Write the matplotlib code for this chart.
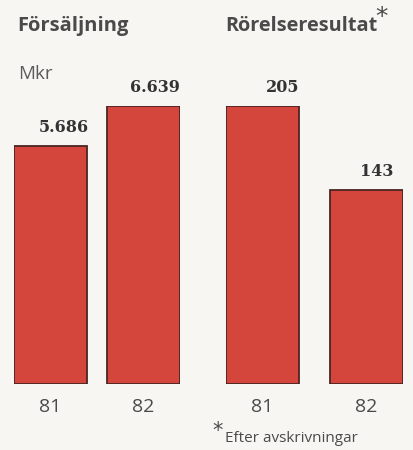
import matplotlib.pyplot as plt

years = ["81", "82"]
sales = [5686, 6639]
sales_labels = ["5.686", "6.639"]
profit = [205, 143]
profit_labels = ["205", "143"]

bg = "#f8f6f3"
bar_red = "#d4463c"
edge = "#4a2523"
text_grey = "#4a4a4a"

W, H = 414, 450
fig = plt.figure(figsize=(W / 100, H / 100), dpi=100, facecolor=bg)


def px_axes(x0, x1, ytop, ybot):
    return fig.add_axes([x0 / W, 1 - ybot / H, (x1 - x0) / W, (ybot - ytop) / H])


def draw(ax, vals, labels, w, label_dx):
    ax.set_facecolor("none")
    xs = range(len(vals))
    bars = ax.bar(xs, vals, width=w, color=bar_red, edgecolor=edge, linewidth=1.3)
    ax.set_xlim(-w / 2, len(vals) - 1 + w / 2)
    ax.set_ylim(0, max(vals))
    for b, lab, dx in zip(bars, labels, label_dx):
        ax.annotate(lab, (b.get_x() + b.get_width(), b.get_height()),
                    xytext=(dx, 7), textcoords="offset points",
                    ha="right", va="bottom", fontsize=11.5, fontweight="bold",
                    family="DejaVu Serif", color="#333333", annotation_clip=False)
    ax.set_xticks(list(xs))
    ax.set_xticklabels(years, fontsize=14, color=text_grey, family="Open Sans")
    ax.tick_params(axis="x", length=0, pad=10)
    ax.set_yticks([])
    for s in ax.spines.values():
        s.set_visible(False)


ax1 = px_axes(14, 180, 106, 384)
draw(ax1, sales, sales_labels, 0.785, [1, 0])

ax2 = px_axes(226, 403, 106, 384)
draw(ax2, profit, profit_labels, 0.70, [0, -7])

fig.text(17 / W, 1 - 26 / H, "Försäljning", fontsize=14.5, fontweight="bold",
         color=text_grey, va="center", ha="left", family="Open Sans")
fig.text(225 / W, 1 - 26 / H, "Rörelseresultat", fontsize=14.3, fontweight="bold",
         color=text_grey, va="center", ha="left", family="Open Sans")
fig.text(375 / W, 1 - 17 / H, "*", fontsize=18, color=text_grey,
         va="center", ha="left", family="DejaVu Sans")
fig.text(18 / W, 1 - 74 / H, "Mkr", fontsize=13.5, color="#5a5a5a",
         va="center", ha="left", family="Open Sans")
fig.text(212 / W, 1 - 431 / H, "*", fontsize=15, color=text_grey,
         va="center", ha="left", family="DejaVu Sans")
fig.text(225 / W, 1 - 439 / H, "Efter avskrivningar", fontsize=11, color=text_grey,
         va="center", ha="left", family="Open Sans")

fig.savefig("out.png", dpi=100, facecolor=bg)
